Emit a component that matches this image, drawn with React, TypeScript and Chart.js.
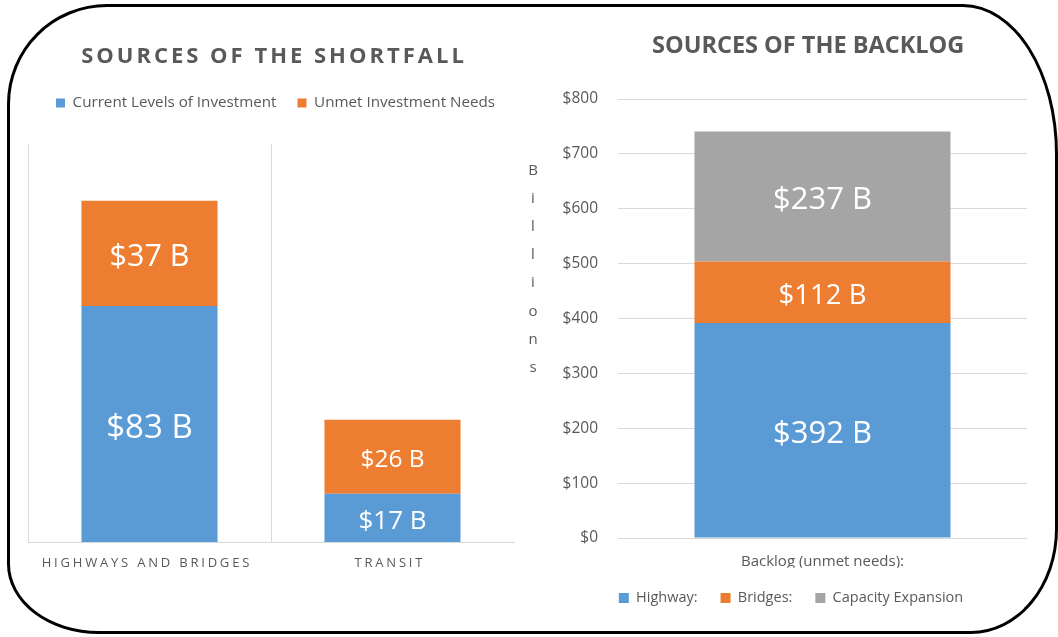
import React, { useEffect, useRef } from 'react';
import { Chart, registerables } from 'chart.js';

Chart.register(...registerables);

// ---------- data ----------
const shortfallTitle = 'SOURCES OF THE SHORTFALL';
const shortfallCategories = ['HIGHWAYS AND BRIDGES', 'TRANSIT'];
const shortfallSeriesNames = ['Current Levels of Investment', 'Unmet Investment Needs'];
const currentLevels = [83, 17];
const unmetNeeds = [37, 26];

const backlogTitle = 'SOURCES OF THE BACKLOG';
const backlogCategories = ['Backlog (unmet needs):'];
const backlogSeriesNames = ['Highway:', 'Bridges:', 'Capacity Expansion'];
const highway = [392];
const bridges = [112];
const capacity = [237];
const backlogAxisTitle = 'Billions';
const backlogMin = 0;
const backlogMax = 800;
const backlogStep = 100;

// ---------- styles ----------
const FONT = '"Open Sans", sans-serif';
const TEXT = '#595959';
const GRID = '#d9d9d9';
const BLUE = '#5b9bd5';
const ORANGE = '#ed7d31';
const GRAY = '#a5a5a5';

const valueLabel = (v: number) => `$${v} B`;

function barLabels(sizes: number[][]) {
  return {
    id: 'barLabels',
    afterDatasetsDraw(chart: any) {
      const ctx = chart.ctx;
      chart.data.datasets.forEach((ds: any, di: number) => {
        const meta = chart.getDatasetMeta(di);
        meta.data.forEach((bar: any, i: number) => {
          const v = ds.data[i] as number;
          const size = sizes[di][i];
          const { x, y, base } = bar.getProps(['x', 'y', 'base'], true);
          const cy = (y + base) / 2;
          ctx.save();
          ctx.font = `${size}px ${FONT}`;
          ctx.fillStyle = '#ffffff';
          ctx.textAlign = 'center';
          ctx.textBaseline = 'alphabetic';
          ctx.fillText(valueLabel(v), x, cy + size * 0.357 + 2);
          ctx.restore();
        });
      });
    },
  };
}

// extra room below the legend, and a small sideways shift of the legend
function legendTweaks(extra: number, shift: number) {
  return {
    id: 'legendTweaks',
    afterInit(chart: any) {
      const legend = chart.legend;
      if (!legend) return;
      const orig = legend.fit;
      legend.fit = function () {
        orig.call(this);
        this.height += extra;
      };
    },
    afterLayout(chart: any) {
      const legend = chart.legend;
      if (!legend) return;
      legend.left += shift;
      legend.right += shift;
    },
  };
}

// vertical separators at the category boundaries (left edge of each category band)
const categorySeparators = {
  id: 'categorySeparators',
  beforeDatasetsDraw(chart: any) {
    const ctx = chart.ctx;
    const xs = chart.scales.x;
    const { top, bottom } = chart.chartArea;
    const n = shortfallCategories.length;
    const band = (xs.right - xs.left) / n;
    ctx.save();
    ctx.strokeStyle = GRID;
    ctx.lineWidth = 1;
    for (let i = 0; i < n; i++) {
      const x = Math.round(xs.getPixelForValue(i) - band / 2) + 0.5;
      ctx.beginPath();
      ctx.moveTo(x, top);
      ctx.lineTo(x, bottom);
      ctx.stroke();
    }
    ctx.restore();
  },
};

const spacedCategoryLabels = {
  id: 'spacedCategoryLabels',
  afterDraw(chart: any) {
    const ctx = chart.ctx;
    const xs = chart.scales.x;
    const spacing = 2.8;
    ctx.save();
    ctx.font = `13px ${FONT}`;
    (ctx as any).letterSpacing = `${spacing}px`;
    ctx.fillStyle = TEXT;
    ctx.textAlign = 'center';
    ctx.textBaseline = 'middle';
    shortfallCategories.forEach((label, i) => {
      const x = xs.getPixelForValue(i);
      ctx.fillText(label, x + spacing / 2 - 4, chart.chartArea.bottom + 21);
    });
    ctx.restore();
  },
};

const stackedAxisTitle = {
  id: 'stackedAxisTitle',
  afterDraw(chart: any) {
    const ctx = chart.ctx;
    const top = chart.chartArea.top;
    ctx.save();
    ctx.font = `15px ${FONT}`;
    ctx.fillStyle = TEXT;
    ctx.textAlign = 'center';
    ctx.textBaseline = 'alphabetic';
    backlogAxisTitle.split('').forEach((ch, i) => {
      ctx.fillText(ch, 33, top + 76 + i * 28.1);
    });
    ctx.restore();
  },
};

function ShortfallChart() {
  const ref = useRef<HTMLCanvasElement | null>(null);
  useEffect(() => {
    if (!ref.current) return;
    const chart = new Chart(ref.current, {
      type: 'bar',
      data: {
        labels: shortfallCategories,
        datasets: [
          { label: shortfallSeriesNames[0], data: currentLevels, backgroundColor: BLUE, borderWidth: 0 },
          { label: shortfallSeriesNames[1], data: unmetNeeds, backgroundColor: ORANGE, borderWidth: 0 },
        ],
      },
      options: {
        responsive: false,
        animation: false,
        events: [],
        layout: { padding: { left: 28, right: 16, top: 74.4, bottom: 95 } },
        datasets: { bar: { categoryPercentage: 1, barPercentage: 0.56 } },
        plugins: {
          legend: {
            position: 'top',
            labels: { boxWidth: 9, boxHeight: 9, padding: 21, color: TEXT, font: { family: FONT, size: 15.2 } },
          },
          tooltip: { enabled: false },
          title: { display: false },
        },
        scales: {
          x: {
            stacked: true,
            offset: true,
            grid: { display: false, drawTicks: false },
            border: { color: GRID },
            ticks: { display: false },
          },
          y: {
            stacked: true,
            display: false,
            min: 0,
            max: 140,
          },
        },
      } as any,
      plugins: [legendTweaks(23.4, 4.5), categorySeparators, barLabels([[33, 26], [30.5, 24.5]]), spacedCategoryLabels],
    });
    return () => chart.destroy();
  }, []);
  return <canvas ref={ref} width={530} height={637} />;
}

function BacklogChart() {
  const ref = useRef<HTMLCanvasElement | null>(null);
  useEffect(() => {
    if (!ref.current) return;
    const chart = new Chart(ref.current, {
      type: 'bar',
      data: {
        labels: backlogCategories,
        datasets: [
          { label: backlogSeriesNames[0], data: highway, backgroundColor: BLUE, borderWidth: 0 },
          { label: backlogSeriesNames[1], data: bridges, backgroundColor: ORANGE, borderWidth: 0 },
          { label: backlogSeriesNames[2], data: capacity, backgroundColor: GRAY, borderWidth: 0 },
        ],
      },
      options: {
        responsive: false,
        animation: false,
        events: [],
        layout: { padding: { left: 55, right: 31, top: 99, bottom: 21.75 } },
        datasets: { bar: { categoryPercentage: 1, barPercentage: 0.626 } },
        plugins: {
          legend: {
            position: 'bottom',
            labels: { boxWidth: 10, boxHeight: 10, padding: 23, color: TEXT, font: { family: FONT, size: 14.5 } },
          },
          tooltip: { enabled: false },
          title: { display: false },
        },
        scales: {
          x: {
            stacked: true,
            grid: { display: false, drawTicks: false },
            border: { display: false },
            ticks: { color: TEXT, padding: 15, font: { family: FONT, size: 15 } },
            afterFit: (s: any) => {
              s.height = 29.75;
            },
          },
          y: {
            stacked: true,
            min: backlogMin,
            max: backlogMax,
            grid: { color: GRID, drawTicks: false },
            border: { display: false },
            ticks: {
              stepSize: backlogStep,
              padding: 20,
              color: TEXT,
              font: { family: FONT, size: 15.5 },
              callback: (v: any) => `$${v}`,
            },
            afterFit: (s: any) => {
              s.width = 63;
            },
          },
        },
      } as any,
      plugins: [barLabels([[31], [27.5], [31]]), stackedAxisTitle],
    });
    return () => chart.destroy();
  }, []);
  return <canvas ref={ref} width={558} height={637} />;
}

export default function App() {
  return (
    <div
      style={{
        position: 'absolute',
        left: 0,
        top: 0,
        width: 1058,
        height: 637,
        background: '#ffffff',
        overflow: 'hidden',
        fontFamily: FONT,
      }}
    >
      <div style={{ position: 'absolute', left: 0, top: 0, width: 530, height: 637 }}>
        <ShortfallChart />
      </div>
      <div style={{ position: 'absolute', left: 500, top: 0, width: 558, height: 637 }}>
        <BacklogChart />
      </div>
      <div
        style={{
          position: 'absolute',
          left: 0,
          top: 39,
          width: 548,
          textAlign: 'center',
          fontSize: 22,
          fontWeight: 700,
          letterSpacing: '3px',
          color: TEXT,
          lineHeight: 'normal',
          whiteSpace: 'nowrap',
        }}
      >
        {shortfallTitle}
      </div>
      <div
        style={{
          position: 'absolute',
          left: 652,
          top: 28,
          width: 300,
          textAlign: 'center',
          fontSize: 23.5,
          fontWeight: 700,
          color: TEXT,
          lineHeight: 'normal',
          whiteSpace: 'nowrap',
        }}
      >
        {backlogTitle}
      </div>
      <div
        style={{
          position: 'absolute',
          left: 7,
          top: 4,
          width: 1051,
          height: 630,
          boxSizing: 'border-box',
          border: '3px solid #000',
          borderRadius: '100px 95px 87px 92px / 100px 150px 105px 70px',
          pointerEvents: 'none',
        }}
      />
    </div>
  );
}
